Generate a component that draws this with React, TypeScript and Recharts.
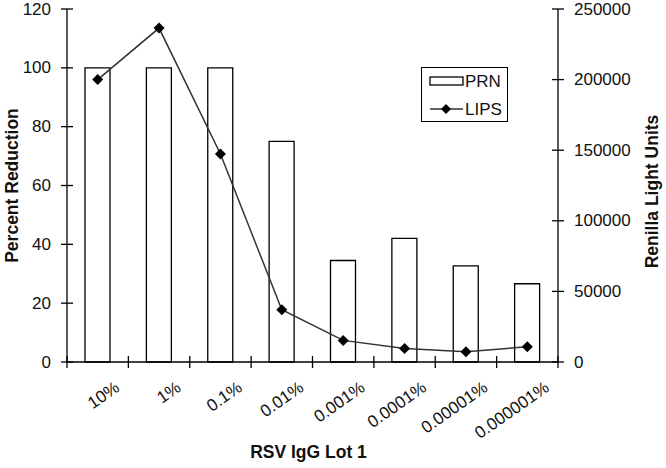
import { ComposedChart, Bar, Line, XAxis, YAxis, Label } from 'recharts'

const categories = ['10%', '1%', '0.1%', '0.01%', '0.001%', '0.0001%', '0.00001%', '0.000001%']
const prnValues = [100, 100, 100, 75, 34.5, 42, 32.7, 26.6]
const lipsValues = [200000, 236500, 147300, 37000, 15300, 9600, 7300, 10800]
const leftTicks = [0, 20, 40, 60, 80, 100, 120]
const rightTicks = [0, 50000, 100000, 150000, 200000, 250000]

const data = categories.map((name, i) => ({ name, prn: prnValues[i], lips: lipsValues[i] }))

const FONT = "'Liberation Sans', Arial, sans-serif"
const INK = '#111'

// category ticks sit on the band edges, labels are tilted below the band centre
function XTick(props: any) {
  const { x, y, payload, index, visibleTicksCount } = props
  const half = payload?.offset ?? 30.6
  const last = index === visibleTicksCount - 1
  const tx = x + 23
  const ty = y + 28
  return (
    <g>
      <line x1={x - half} y1={y - 6} x2={x - half} y2={y + 6} stroke="#000" strokeWidth={1.3} />
      {last && <line x1={x + half} y1={y - 6} x2={x + half} y2={y + 6} stroke="#000" strokeWidth={1.3} />}
      <text x={tx} y={ty} textAnchor="end" transform={`rotate(-35, ${tx}, ${ty})`} fontSize={17} fontFamily={FONT} fill={INK}>
        {payload.value}
      </text>
    </g>
  )
}

// y ticks cross the axis line, like the original
function LeftTick(props: any) {
  const { x, y, payload } = props
  return (
    <g>
      <line x1={x + 10} y1={y} x2={x + 22} y2={y} stroke="#000" strokeWidth={1.3} />
      <text x={x} y={y} textAnchor="end" dominantBaseline="central" fontSize={17} fontFamily={FONT} fill={INK}>
        {payload.value}
      </text>
    </g>
  )
}

function RightTick(props: any) {
  const { x, y, payload } = props
  return (
    <g>
      <line x1={x - 22} y1={y} x2={x - 10} y2={y} stroke="#000" strokeWidth={1.3} />
      <text x={x} y={y} textAnchor="start" dominantBaseline="central" fontSize={17} fontFamily={FONT} fill={INK}>
        {payload.value}
      </text>
    </g>
  )
}

function Diamond(props: any) {
  const { cx, cy } = props
  if (cx == null || cy == null) return null
  const r = 5.5
  return <polygon points={`${cx},${cy - r} ${cx + r},${cy} ${cx},${cy + r} ${cx - r},${cy}`} fill="#000" />
}

function LeftTitle(props: any) {
  const { x, y, height } = props.viewBox
  const cx = x + 12
  const cy = y + height / 2
  return (
    <text x={cx} y={cy} textAnchor="middle" dominantBaseline="central" transform={`rotate(-90, ${cx}, ${cy})`}
      fontSize={17.5} fontWeight="bold" fontFamily={FONT} fill={INK}>
      Percent Reduction
    </text>
  )
}

function RightTitle(props: any) {
  const { x, y, height } = props.viewBox
  const cx = x + 94
  const cy = y + height / 2 + 6
  return (
    <text x={cx} y={cy} textAnchor="middle" dominantBaseline="central" transform={`rotate(-90, ${cx}, ${cy})`}
      fontSize={17.5} fontWeight="bold" fontFamily={FONT} fill={INK}>
      Renilla Light Units
    </text>
  )
}

function BottomTitle(props: any) {
  const { x, y, width } = props.viewBox
  return (
    <text x={x + width / 2 - 4} y={y + 96} textAnchor="middle" fontSize={17.5} fontWeight="bold" fontFamily={FONT} fill={INK}>
      RSV IgG Lot 1
    </text>
  )
}

export default function App() {
  return (
    <div style={{ position: 'absolute', left: 0, top: 0, width: 666, height: 468, background: '#fff', fontFamily: FONT }}>
      <ComposedChart width={666} height={468} data={data} margin={{ top: 9, right: 0, left: 0, bottom: 0 }}>
        <XAxis
          dataKey="name"
          height={106}
          interval={0}
          tick={<XTick />}
          tickLine={false}
          tickSize={0}
          tickMargin={0}
          axisLine={{ stroke: '#000', strokeWidth: 1.3 }}
        >
          <Label content={<BottomTitle />} />
        </XAxis>
        <YAxis
          yAxisId="left"
          width={67}
          domain={[0, 120]}
          ticks={leftTicks}
          interval={0}
          tick={<LeftTick />}
          tickLine={false}
          tickSize={6}
          tickMargin={10}
          axisLine={{ stroke: '#000', strokeWidth: 1.3 }}
        >
          <Label content={<LeftTitle />} />
        </YAxis>
        <YAxis
          yAxisId="right"
          orientation="right"
          width={108}
          domain={[0, 250000]}
          ticks={rightTicks}
          interval={0}
          tick={<RightTick />}
          tickLine={false}
          tickSize={6}
          tickMargin={10}
          axisLine={{ stroke: '#000', strokeWidth: 1.3 }}
        >
          <Label content={<RightTitle />} />
        </YAxis>
        <Bar yAxisId="left" dataKey="prn" name="PRN" barSize={25} fill="#fff" stroke="#000" strokeWidth={1.3} isAnimationActive={false} />
        <Line
          yAxisId="right"
          dataKey="lips"
          name="LIPS"
          type="linear"
          stroke="#333"
          strokeWidth={1.5}
          dot={<Diamond />}
          activeDot={false}
          isAnimationActive={false}
        />
      </ComposedChart>
      <div
        style={{
          position: 'absolute',
          left: 421,
          top: 67,
          width: 85,
          height: 53,
          border: '1.3px solid #000',
          fontSize: 17,
          color: INK,
          lineHeight: 1,
        }}
      >
        <div style={{ position: 'absolute', left: 7, top: 4, display: 'flex', alignItems: 'center' }}>
          <svg width={36} height={18}>
            <rect x={1} y={5} width={33} height={8} fill="#fff" stroke="#000" strokeWidth={1.3} />
          </svg>
          <span>PRN</span>
        </div>
        <div style={{ position: 'absolute', left: 7, top: 32, display: 'flex', alignItems: 'center' }}>
          <svg width={36} height={18}>
            <line x1={1} y1={9} x2={34} y2={9} stroke="#333" strokeWidth={1.5} />
            <polygon points="17,4 22,9 17,14 12,9" fill="#000" />
          </svg>
          <span>LIPS</span>
        </div>
      </div>
    </div>
  )
}
